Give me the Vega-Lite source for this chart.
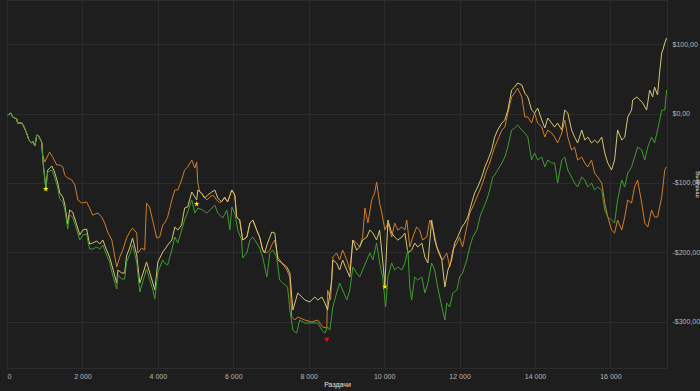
{
  "$schema": "https://vega.github.io/schema/vega-lite/v6.json",
  "autosize": "none",
  "width": 660,
  "height": 368,
  "padding": {"left": 7, "top": 0, "right": 33, "bottom": 23},
  "background": "#1e1e1e",
  "config": {
    "view": {"stroke": "#2c2c2c"},
    "axis": {"domain": false, "ticks": false, "gridColor": "#2c2c2c", "gridWidth": 1, "labelColor": "#b8b8b8", "labelFont": "Liberation Sans", "labelFontSize": 7, "titleFont": "Liberation Sans", "titleFontSize": 7, "titleFontWeight": "normal", "titleColor": "#e0e0e0"}
  },
  "datasets": {
    "orange": [
      {"h":20,"v":-2.2},{"h":100,"v":0.7},{"h":150,"v":-5.0},{"h":260,"v":-7.9},{"h":280,"v":-13.7},{"h":390,"v":-13.7},{"h":440,"v":-18.0},{"h":520,"v":-28.1},{"h":580,"v":-38.2},{"h":660,"v":-42.5},{"h":680,"v":-39.6},{"h":740,"v":-46.8},{"h":790,"v":-31.0},{"h":840,"v":-32.4},{"h":920,"v":-41.1},
      {"h":950,"v":-59.8},{"h":1000,"v":-69.9},{"h":1130,"v":-55.5},{"h":1210,"v":-62.7},{"h":1320,"v":-74.2},{"h":1400,"v":-74.2},{"h":1480,"v":-77.1},{"h":1530,"v":-88.6},{"h":1610,"v":-92.9},{"h":1720,"v":-95.8},{"h":1800,"v":-103.0},{"h":1880,"v":-124.6},{"h":1980,"v":-129.0},{"h":2110,"v":-127.5},{"h":2190,"v":-136.2},{"h":2270,"v":-146.3},{"h":2410,"v":-143.4},{"h":2510,"v":-149.1},{"h":2590,"v":-157.8},{"h":2670,"v":-170.8},{"h":2780,"v":-182.3},{"h":2860,"v":-206.8},{"h":2910,"v":-221.2},{"h":2990,"v":-206.8},{"h":3070,"v":-196.7},{"h":3170,"v":-179.4},{"h":3250,"v":-170.8},{"h":3330,"v":-165.0},{"h":3440,"v":-172.2},{"h":3470,"v":-201.0},{"h":3570,"v":-193.8},{"h":3650,"v":-196.7},{"h":3700,"v":-129.0},{"h":3780,"v":-134.7},{"h":3860,"v":-153.5},{"h":3970,"v":-179.4},{"h":4050,"v":-178.0},{"h":4130,"v":-160.7},{"h":4180,"v":-157.8},{"h":4260,"v":-149.1},{"h":4370,"v":-124.6},{"h":4450,"v":-110.2},{"h":4530,"v":-110.2},{"h":4630,"v":-95.8},{"h":4710,"v":-81.4},{"h":4790,"v":-77.1},{"h":4900,"v":-67.0},{"h":4980,"v":-78.5},{"h":5030,"v":-69.9},{"h":5060,"v":-100.2},{"h":5110,"v":-113.1},{"h":5190,"v":-117.4},{"h":5300,"v":-124.6},{"h":5380,"v":-120.3},{"h":5460,"v":-117.4},{"h":5560,"v":-124.6},{"h":5640,"v":-129.0},{"h":5770,"v":-121.8},{"h":5850,"v":-127.5},{"h":5960,"v":-110.2},{"h":6040,"v":-117.4},{"h":6090,"v":-149.1},{"h":6170,"v":-153.5},{"h":6250,"v":-182.3},{"h":6360,"v":-178.0},{"h":6440,"v":-157.8},{"h":6520,"v":-153.5},{"h":6620,"v":-167.9},{"h":6700,"v":-178.0},{"h":6780,"v":-196.7},{"h":6890,"v":-201.0},{"h":6970,"v":-196.7},{"h":7020,"v":-189.5},{"h":7100,"v":-182.3},{"h":7180,"v":-206.8},{"h":7290,"v":-215.4},{"h":7420,"v":-225.5},{"h":7500,"v":-235.6},{"h":7550,"v":-293.2},{"h":7630,"v":-297.6},{"h":7710,"v":-293.2},{"h":7900,"v":-297.6},{"h":8080,"v":-300.4},{"h":8240,"v":-297.6},{"h":8370,"v":-307.7},{"h":8480,"v":-309.1},{"h":8500,"v":-254.3},{"h":8580,"v":-268.7},{"h":8640,"v":-206.8},{"h":8740,"v":-201.0},{"h":8820,"v":-211.1},{"h":8900,"v":-196.7},{"h":9010,"v":-211.1},{"h":9090,"v":-225.5},{"h":9170,"v":-182.3},{"h":9270,"v":-186.6},{"h":9350,"v":-192.4},{"h":9430,"v":-178.0},{"h":9490,"v":-136.2},{"h":9570,"v":-157.8},{"h":9670,"v":-124.6},{"h":9750,"v":-114.6},{"h":9800,"v":-98.7},{"h":9880,"v":-129.0},{"h":9940,"v":-143.4},{"h":10020,"v":-167.9},{"h":10100,"v":-157.8},{"h":10200,"v":-178.0},{"h":10280,"v":-157.8},{"h":10360,"v":-167.9},{"h":10470,"v":-163.6},{"h":10550,"v":-167.9},{"h":10600,"v":-153.5},{"h":10680,"v":-192.4},{"h":10760,"v":-178.0},{"h":10860,"v":-163.6},{"h":10940,"v":-167.9},{"h":11020,"v":-182.3},{"h":11130,"v":-178.0},{"h":11210,"v":-153.5},{"h":11290,"v":-163.6},{"h":11400,"v":-192.4},{"h":11470,"v":-201.0},{"h":11550,"v":-211.1},{"h":11660,"v":-201.0},{"h":11740,"v":-221.2},{"h":11820,"v":-196.7},{"h":11930,"v":-186.6},{"h":12000,"v":-178.0},{"h":12080,"v":-192.4},{"h":12190,"v":-163.6},{"h":12270,"v":-143.4},{"h":12350,"v":-134.7},{"h":12460,"v":-120.3},{"h":12540,"v":-110.2},{"h":12610,"v":-100.2},{"h":12720,"v":-81.4},{"h":12800,"v":-71.3},{"h":12880,"v":-56.9},{"h":12930,"v":-48.3},{"h":13010,"v":-38.2},{"h":13120,"v":-23.8},{"h":13200,"v":-19.5},{"h":13280,"v":0.7},{"h":13380,"v":23.8},{"h":13460,"v":29.5},{"h":13540,"v":36.7},{"h":13650,"v":23.8},{"h":13730,"v":-5.0},{"h":13810,"v":-5.0},{"h":13910,"v":-13.7},{"h":13990,"v":0.7},{"h":14070,"v":-13.7},{"h":14180,"v":-19.5},{"h":14260,"v":-33.9},{"h":14340,"v":-23.8},{"h":14440,"v":-28.1},{"h":14520,"v":-33.9},{"h":14600,"v":-42.5},{"h":14710,"v":-28.1},{"h":14790,"v":-9.4},{"h":14870,"v":-33.9},{"h":14970,"v":-52.6},{"h":15050,"v":-48.3},{"h":15130,"v":-67.0},{"h":15240,"v":-62.7},{"h":15320,"v":-71.3},{"h":15400,"v":-77.1},{"h":15500,"v":-67.0},{"h":15580,"v":-85.7},{"h":15660,"v":-91.5},{"h":15770,"v":-100.2},{"h":15850,"v":-129.0},{"h":15930,"v":-149.1},{"h":16030,"v":-167.9},{"h":16110,"v":-172.2},{"h":16190,"v":-153.5},{"h":16300,"v":-167.9},{"h":16380,"v":-149.1},{"h":16460,"v":-124.6},{"h":16560,"v":-129.0},{"h":16640,"v":-105.9},{"h":16720,"v":-95.8},{"h":16830,"v":-129.0},{"h":16910,"v":-157.8},{"h":16990,"v":-163.6},{"h":17090,"v":-139.1},{"h":17170,"v":-149.1},{"h":17250,"v":-149.1},{"h":17360,"v":-120.3},{"h":17440,"v":-81.4},{"h":17490,"v":-77.1}
    ],
    "yellow": [
      {"h":20,"v":-2.2},{"h":100,"v":0.7},{"h":150,"v":-5.0},{"h":260,"v":-7.9},{"h":280,"v":-13.7},{"h":390,"v":-13.7},{"h":440,"v":-18.0},{"h":520,"v":-28.1},{"h":580,"v":-38.2},{"h":660,"v":-42.5},{"h":680,"v":-39.6},{"h":740,"v":-46.8},{"h":790,"v":-31.0},{"h":840,"v":-32.4},{"h":920,"v":-41.1},
      {"h":950,"v":-67.0},{"h":1000,"v":-92.9},{"h":1030,"v":-105.9},{"h":1080,"v":-81.4},{"h":1190,"v":-75.7},{"h":1260,"v":-84.3},{"h":1340,"v":-98.7},{"h":1400,"v":-114.6},{"h":1480,"v":-120.3},{"h":1530,"v":-130.4},{"h":1610,"v":-159.2},{"h":1660,"v":-139.1},{"h":1740,"v":-141.9},{"h":1850,"v":-160.7},{"h":1930,"v":-175.1},{"h":2010,"v":-167.9},{"h":2110,"v":-166.4},{"h":2190,"v":-188.1},{"h":2270,"v":-186.6},{"h":2380,"v":-183.7},{"h":2460,"v":-188.1},{"h":2540,"v":-182.3},{"h":2640,"v":-196.7},{"h":2720,"v":-206.8},{"h":2800,"v":-222.6},{"h":2910,"v":-244.2},{"h":2940,"v":-225.5},{"h":3040,"v":-229.8},{"h":3120,"v":-229.8},{"h":3170,"v":-205.3},{"h":3250,"v":-193.8},{"h":3330,"v":-179.4},{"h":3440,"v":-203.9},{"h":3520,"v":-244.2},{"h":3600,"v":-231.3},{"h":3700,"v":-214.0},{"h":3780,"v":-228.4},{"h":3860,"v":-242.8},{"h":3920,"v":-254.3},{"h":4000,"v":-214.0},{"h":4130,"v":-199.6},{"h":4210,"v":-193.8},{"h":4260,"v":-189.5},{"h":4370,"v":-182.3},{"h":4450,"v":-163.6},{"h":4530,"v":-167.9},{"h":4630,"v":-160.7},{"h":4710,"v":-136.2},{"h":4790,"v":-134.7},{"h":4900,"v":-113.1},{"h":5030,"v":-124.6},{"h":5060,"v":-110.2},{"h":5160,"v":-114.6},{"h":5240,"v":-121.8},{"h":5320,"v":-117.4},{"h":5430,"v":-113.1},{"h":5510,"v":-110.2},{"h":5590,"v":-121.8},{"h":5690,"v":-127.5},{"h":5770,"v":-120.3},{"h":5850,"v":-127.5},{"h":5960,"v":-110.2},{"h":6040,"v":-117.4},{"h":6090,"v":-149.1},{"h":6170,"v":-153.5},{"h":6250,"v":-182.3},{"h":6360,"v":-178.0},{"h":6440,"v":-157.8},{"h":6520,"v":-153.5},{"h":6620,"v":-167.9},{"h":6700,"v":-178.0},{"h":6780,"v":-196.7},{"h":6830,"v":-201.0},{"h":6910,"v":-186.6},{"h":7020,"v":-170.8},{"h":7100,"v":-172.2},{"h":7180,"v":-211.1},{"h":7290,"v":-215.4},{"h":7420,"v":-221.2},{"h":7500,"v":-229.8},{"h":7580,"v":-283.2},{"h":7710,"v":-258.7},{"h":7820,"v":-264.4},{"h":7900,"v":-268.7},{"h":8030,"v":-271.6},{"h":8160,"v":-264.4},{"h":8240,"v":-268.7},{"h":8350,"v":-264.4},{"h":8430,"v":-273.1},{"h":8500,"v":-283.2},{"h":8610,"v":-239.9},{"h":8640,"v":-211.1},{"h":8740,"v":-215.4},{"h":8820,"v":-225.5},{"h":8900,"v":-211.1},{"h":9010,"v":-225.5},{"h":9090,"v":-235.6},{"h":9170,"v":-182.3},{"h":9270,"v":-196.7},{"h":9350,"v":-192.4},{"h":9430,"v":-182.3},{"h":9540,"v":-178.0},{"h":9620,"v":-167.9},{"h":9700,"v":-172.2},{"h":9800,"v":-182.3},{"h":9880,"v":-167.9},{"h":9960,"v":-211.1},{"h":10020,"v":-247.1},{"h":10100,"v":-153.5},{"h":10200,"v":-172.2},{"h":10280,"v":-178.0},{"h":10360,"v":-182.3},{"h":10470,"v":-178.0},{"h":10550,"v":-172.2},{"h":10630,"v":-201.0},{"h":10730,"v":-196.7},{"h":10810,"v":-186.6},{"h":10890,"v":-192.4},{"h":11000,"v":-186.6},{"h":11080,"v":-206.8},{"h":11160,"v":-215.4},{"h":11260,"v":-153.5},{"h":11340,"v":-182.3},{"h":11420,"v":-196.7},{"h":11530,"v":-211.1},{"h":11610,"v":-250.0},{"h":11690,"v":-225.5},{"h":11790,"v":-211.1},{"h":11870,"v":-186.6},{"h":11950,"v":-178.0},{"h":12060,"v":-163.6},{"h":12140,"v":-157.8},{"h":12220,"v":-149.1},{"h":12320,"v":-129.0},{"h":12400,"v":-114.6},{"h":12480,"v":-105.9},{"h":12590,"v":-91.5},{"h":12670,"v":-77.1},{"h":12750,"v":-67.0},{"h":12850,"v":-52.6},{"h":12930,"v":-33.9},{"h":13010,"v":-23.8},{"h":13120,"v":-13.7},{"h":13200,"v":-9.4},{"h":13280,"v":5.0},{"h":13380,"v":33.9},{"h":13460,"v":38.2},{"h":13540,"v":44.0},{"h":13650,"v":41.1},{"h":13730,"v":29.5},{"h":13810,"v":23.8},{"h":13910,"v":5.0},{"h":13990,"v":0.7},{"h":14070,"v":7.9},{"h":14180,"v":-9.4},{"h":14260,"v":-20.9},{"h":14340,"v":-6.5},{"h":14440,"v":-13.7},{"h":14520,"v":-19.5},{"h":14600,"v":-13.7},{"h":14710,"v":-23.8},{"h":14790,"v":5.0},{"h":14870,"v":0.7},{"h":14970,"v":-23.8},{"h":15050,"v":-33.9},{"h":15130,"v":-42.5},{"h":15240,"v":-23.8},{"h":15320,"v":-38.2},{"h":15400,"v":-33.9},{"h":15500,"v":-42.5},{"h":15580,"v":-38.2},{"h":15660,"v":-42.5},{"h":15770,"v":-33.9},{"h":15850,"v":-56.9},{"h":15930,"v":-71.3},{"h":16030,"v":-81.4},{"h":16110,"v":-67.0},{"h":16190,"v":-23.8},{"h":16300,"v":-38.2},{"h":16380,"v":-33.9},{"h":16460,"v":-5.0},{"h":16560,"v":5.0},{"h":16590,"v":19.5},{"h":16700,"v":23.8},{"h":16780,"v":19.5},{"h":16860,"v":15.1},{"h":16960,"v":5.0},{"h":17040,"v":33.9},{"h":17120,"v":23.8},{"h":17170,"v":38.2},{"h":17250,"v":26.7},{"h":17310,"v":62.7},{"h":17360,"v":87.2},{"h":17390,"v":91.5},{"h":17440,"v":101.6},{"h":17490,"v":108.8}
    ],
    "green": [
      {"h":20,"v":-2.2},{"h":100,"v":0.7},{"h":150,"v":-5.0},{"h":260,"v":-7.9},{"h":280,"v":-13.7},{"h":390,"v":-13.7},{"h":440,"v":-18.0},{"h":520,"v":-28.1},{"h":580,"v":-38.2},{"h":660,"v":-42.5},{"h":680,"v":-39.6},{"h":740,"v":-46.8},{"h":790,"v":-31.0},{"h":840,"v":-32.4},{"h":920,"v":-41.1},
      {"h":950,"v":-67.0},{"h":1000,"v":-92.9},{"h":1030,"v":-110.2},{"h":1080,"v":-84.3},{"h":1190,"v":-81.4},{"h":1260,"v":-91.5},{"h":1340,"v":-105.9},{"h":1400,"v":-123.2},{"h":1480,"v":-127.5},{"h":1530,"v":-137.6},{"h":1610,"v":-166.4},{"h":1660,"v":-146.3},{"h":1740,"v":-149.1},{"h":1850,"v":-167.9},{"h":1930,"v":-182.3},{"h":2010,"v":-175.1},{"h":2110,"v":-173.6},{"h":2190,"v":-195.3},{"h":2270,"v":-195.3},{"h":2380,"v":-192.4},{"h":2460,"v":-195.3},{"h":2540,"v":-189.5},{"h":2640,"v":-203.9},{"h":2720,"v":-214.0},{"h":2800,"v":-232.7},{"h":2910,"v":-252.9},{"h":2940,"v":-232.7},{"h":3040,"v":-238.5},{"h":3120,"v":-238.5},{"h":3170,"v":-214.0},{"h":3250,"v":-203.9},{"h":3330,"v":-189.5},{"h":3440,"v":-214.0},{"h":3520,"v":-257.2},{"h":3600,"v":-242.8},{"h":3700,"v":-224.1},{"h":3780,"v":-238.5},{"h":3860,"v":-252.9},{"h":3920,"v":-267.3},{"h":4000,"v":-228.4},{"h":4130,"v":-211.1},{"h":4180,"v":-215.4},{"h":4260,"v":-218.3},{"h":4370,"v":-196.7},{"h":4450,"v":-178.0},{"h":4530,"v":-186.6},{"h":4630,"v":-167.9},{"h":4710,"v":-153.5},{"h":4790,"v":-141.9},{"h":4900,"v":-124.6},{"h":4980,"v":-143.4},{"h":5060,"v":-136.2},{"h":5190,"v":-139.1},{"h":5300,"v":-143.4},{"h":5380,"v":-139.1},{"h":5510,"v":-131.9},{"h":5590,"v":-143.4},{"h":5720,"v":-150.6},{"h":5830,"v":-139.1},{"h":5910,"v":-167.9},{"h":5960,"v":-134.7},{"h":6040,"v":-143.4},{"h":6120,"v":-167.9},{"h":6220,"v":-182.3},{"h":6250,"v":-208.2},{"h":6360,"v":-201.0},{"h":6440,"v":-182.3},{"h":6520,"v":-178.0},{"h":6620,"v":-186.6},{"h":6700,"v":-193.8},{"h":6780,"v":-206.8},{"h":6890,"v":-235.6},{"h":6970,"v":-201.0},{"h":7050,"v":-196.7},{"h":7150,"v":-206.8},{"h":7230,"v":-239.9},{"h":7310,"v":-244.2},{"h":7440,"v":-250.0},{"h":7500,"v":-283.2},{"h":7580,"v":-312.0},{"h":7680,"v":-316.3},{"h":7760,"v":-297.6},{"h":7900,"v":-301.9},{"h":8080,"v":-301.9},{"h":8240,"v":-301.9},{"h":8350,"v":-312.0},{"h":8430,"v":-316.3},{"h":8500,"v":-307.7},{"h":8560,"v":-312.0},{"h":8640,"v":-278.8},{"h":8740,"v":-258.7},{"h":8820,"v":-244.2},{"h":8900,"v":-254.3},{"h":9010,"v":-268.7},{"h":9090,"v":-254.3},{"h":9170,"v":-221.2},{"h":9270,"v":-229.8},{"h":9350,"v":-235.6},{"h":9430,"v":-225.5},{"h":9540,"v":-211.1},{"h":9620,"v":-201.0},{"h":9700,"v":-211.1},{"h":9800,"v":-186.6},{"h":9880,"v":-215.4},{"h":9960,"v":-235.6},{"h":10040,"v":-278.8},{"h":10100,"v":-235.6},{"h":10200,"v":-215.4},{"h":10280,"v":-225.5},{"h":10360,"v":-221.2},{"h":10470,"v":-225.5},{"h":10550,"v":-215.4},{"h":10630,"v":-196.7},{"h":10680,"v":-250.0},{"h":10730,"v":-268.7},{"h":10810,"v":-235.6},{"h":10890,"v":-239.9},{"h":11000,"v":-235.6},{"h":11080,"v":-258.7},{"h":11160,"v":-244.2},{"h":11260,"v":-215.4},{"h":11340,"v":-225.5},{"h":11420,"v":-250.0},{"h":11530,"v":-278.8},{"h":11610,"v":-297.6},{"h":11660,"v":-273.1},{"h":11740,"v":-278.8},{"h":11820,"v":-258.7},{"h":11930,"v":-254.3},{"h":12000,"v":-235.6},{"h":12080,"v":-229.8},{"h":12190,"v":-211.1},{"h":12270,"v":-192.4},{"h":12350,"v":-178.0},{"h":12460,"v":-167.9},{"h":12540,"v":-149.1},{"h":12610,"v":-139.1},{"h":12720,"v":-124.6},{"h":12800,"v":-110.2},{"h":12880,"v":-91.5},{"h":12930,"v":-88.6},{"h":13010,"v":-81.4},{"h":13120,"v":-71.3},{"h":13200,"v":-62.7},{"h":13280,"v":-48.3},{"h":13380,"v":-23.8},{"h":13460,"v":-20.9},{"h":13540,"v":-16.6},{"h":13650,"v":-23.8},{"h":13730,"v":-28.1},{"h":13810,"v":-33.9},{"h":13910,"v":-67.0},{"h":13990,"v":-56.9},{"h":14070,"v":-67.0},{"h":14180,"v":-62.7},{"h":14260,"v":-77.1},{"h":14340,"v":-67.0},{"h":14440,"v":-71.3},{"h":14520,"v":-71.3},{"h":14600,"v":-100.2},{"h":14710,"v":-67.0},{"h":14790,"v":-62.7},{"h":14870,"v":-81.4},{"h":14970,"v":-91.5},{"h":15050,"v":-100.2},{"h":15130,"v":-105.9},{"h":15240,"v":-91.5},{"h":15320,"v":-95.8},{"h":15400,"v":-105.9},{"h":15500,"v":-100.2},{"h":15580,"v":-110.2},{"h":15660,"v":-105.9},{"h":15770,"v":-110.2},{"h":15850,"v":-139.1},{"h":15930,"v":-149.1},{"h":16030,"v":-153.5},{"h":16110,"v":-157.8},{"h":16190,"v":-124.6},{"h":16300,"v":-95.8},{"h":16380,"v":-105.9},{"h":16460,"v":-85.7},{"h":16560,"v":-77.1},{"h":16640,"v":-62.7},{"h":16720,"v":-48.3},{"h":16830,"v":-52.6},{"h":16910,"v":-67.0},{"h":16990,"v":-48.3},{"h":17090,"v":-33.9},{"h":17170,"v":-42.5},{"h":17250,"v":-23.8},{"h":17360,"v":5.0},{"h":17440,"v":5.0},{"h":17490,"v":33.9}
    ],
    "stars": [{"h":1030,"v":-108.8},{"h":5030,"v":-130.4},{"h":10020,"v":-249.6}],
    "low": [{"h":8480,"v":-326.4}]
  },
  "layer": [
    {
      "data": {"name": "orange"},
      "mark": {"type": "line", "color": "#cf7d2c", "strokeWidth": 1, "clip": true},
      "encoding": {
        "x": {"field": "h", "type": "quantitative", "scale": {"domain": [0, 17500], "nice": false, "zero": false},
          "axis": {"values": [0,2000,4000,6000,8000,10000,12000,14000,16000], "grid": true, "labelExpr": "replace(format(datum.value, ','), ',', ' ')", "labelPadding": 4, "title": "Раздачи", "titlePadding": 1}},
        "y": {"field": "v", "type": "quantitative", "scale": {"domain": [-366.7, 163.6], "nice": false, "zero": false},
          "axis": {"orient": "right", "values": [-300,-200,-100,0,100], "grid": true, "labelPadding": 5, "labelExpr": "(datum.value < 0 ? '-' : '') + '$' + replace(format(abs(datum.value), '.2f'), '.', ',')", "title": "Выигрыш", "titlePadding": -5, "titleFontSize": 6}}
      }
    },
    {
      "data": {"name": "yellow"},
      "mark": {"type": "line", "color": "#d6c673", "strokeWidth": 1, "clip": true},
      "encoding": {"x": {"field": "h", "type": "quantitative"}, "y": {"field": "v", "type": "quantitative"}}
    },
    {
      "data": {"name": "green"},
      "mark": {"type": "line", "color": "#3f9c2f", "strokeWidth": 1, "clip": true},
      "encoding": {"x": {"field": "h", "type": "quantitative"}, "y": {"field": "v", "type": "quantitative"}}
    },
    {
      "mark": {"type": "rule", "color": "#cfcfcf", "strokeWidth": 1},
      "encoding": {"y": {"datum": 0}}
    },
    {
      "data": {"name": "stars"},
      "mark": {"type": "point", "filled": true, "color": "#ffee00", "opacity": 1, "size": 35, "shape": "M0,-1L0.2245,-0.309L0.951,-0.309L0.363,0.118L0.588,0.809L0,0.382L-0.588,0.809L-0.363,0.118L-0.951,-0.309L-0.2245,-0.309Z"},
      "encoding": {"x": {"field": "h", "type": "quantitative"}, "y": {"field": "v", "type": "quantitative"}}
    },
    {
      "data": {"name": "low"},
      "mark": {"type": "point", "filled": true, "color": "#e01515", "opacity": 1, "size": 25, "shape": "triangle-down"},
      "encoding": {"x": {"field": "h", "type": "quantitative"}, "y": {"field": "v", "type": "quantitative"}}
    }
  ]
}
